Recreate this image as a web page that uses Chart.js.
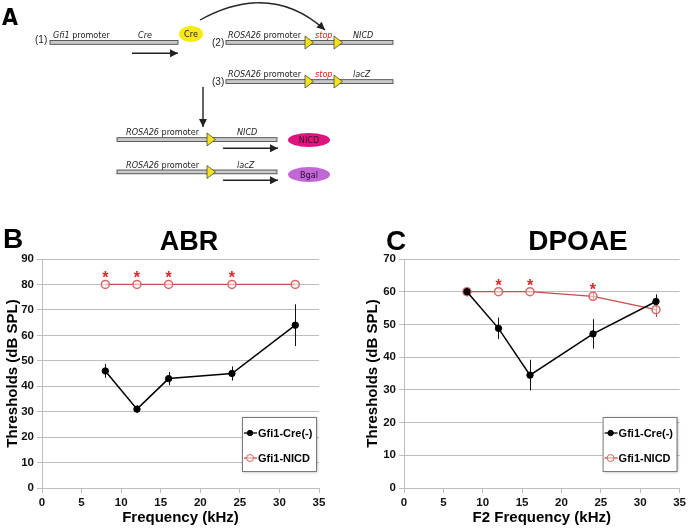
<html>
<head>
<script src="https://cdn.jsdelivr.net/npm/chart.js@4.4.1/dist/chart.umd.min.js"></script>
<style>
  body { margin: 0; background: #fff; }
  #page { position: relative; width: 689px; height: 530px; overflow: hidden; }
  .box { position: absolute; }
  #overlay { position: absolute; left: 0; top: 0; pointer-events: none; }
  .gene { font-family: "Liberation Sans Narrow", "Arial Narrow", "DejaVu Sans Condensed", sans-serif; font-size: 9px; fill: #222; }
  .num { font-family: "Liberation Sans", Arial, sans-serif; font-size: 10px; fill: #222; }
  .big { font-family: "Liberation Sans", Arial, Helvetica, sans-serif; font-weight: bold; fill: #000; }
</style>
</head>
<body>
<div id="page">
  <div class="box" style="left:0; top:228px; width:335px; height:302px;"><canvas id="abr"></canvas></div>
  <div class="box" style="left:345px; top:228px; width:344px; height:302px;"><canvas id="dpoae"></canvas></div>

  <!-- panel A diagram + panel letters / titles -->
  <svg id="overlay" width="689" height="530">
    <defs>
      <marker id="ah" viewBox="0 0 10 10" refX="10" refY="5" markerWidth="10" markerHeight="8" markerUnits="userSpaceOnUse" orient="auto">
        <path d="M0,0 L10,5 L0,10 z" fill="#222"/>
      </marker>
    </defs>

    <text class="big" x="2" y="25" style="font-size:23px; font-family:'Liberation Sans Narrow','Arial Narrow','DejaVu Sans Condensed',sans-serif;">A</text>

    <!-- (1) Gfi1-Cre -->
    <text class="num" x="35" y="42.5">(1)</text>
    <rect x="50" y="40.5" width="128" height="3.8" fill="#c9c9c9" stroke="#3a3a3a" stroke-width="0.8"/>
    <text class="gene" x="53" y="38"><tspan font-style="italic">Gfi1</tspan> promoter</text>
    <text class="gene" x="138" y="38" font-style="italic">Cre</text>
    <line x1="132" y1="53.3" x2="178" y2="53.3" stroke="#222" stroke-width="1.4" marker-end="url(#ah)"/>
    <ellipse cx="191" cy="34" rx="12" ry="8" fill="#f6ea12"/>
    <text class="gene" x="191" y="37" text-anchor="middle">Cre</text>
    <path d="M 200 20 Q 271 -19 325 30" fill="none" stroke="#222" stroke-width="1.4" marker-end="url(#ah)"/>

    <!-- (2) ROSA26-stop-NICD -->
    <text class="num" x="212" y="46">(2)</text>
    <rect x="226" y="40.5" width="167" height="3.8" fill="#c9c9c9" stroke="#3a3a3a" stroke-width="0.8"/>
    <text class="gene" x="228" y="38"><tspan font-style="italic">ROSA26</tspan> promoter</text>
    <text class="gene" x="315" y="38" font-style="italic" style="fill:#e0201c">stop</text>
    <text class="gene" x="353" y="38" font-style="italic">NICD</text>
    <polygon points="305,36 305,49 313.5,42.5" fill="#f3e21c" stroke="#333" stroke-width="0.7"/>
    <polygon points="334,36 334,49 342.5,42.5" fill="#f3e21c" stroke="#333" stroke-width="0.7"/>

    <!-- (3) ROSA26-stop-lacZ -->
    <text class="num" x="212" y="85">(3)</text>
    <rect x="226" y="79.7" width="167" height="3.8" fill="#c9c9c9" stroke="#3a3a3a" stroke-width="0.8"/>
    <text class="gene" x="228" y="77"><tspan font-style="italic">ROSA26</tspan> promoter</text>
    <text class="gene" x="315" y="77" font-style="italic" style="fill:#e0201c">stop</text>
    <text class="gene" x="353" y="77" font-style="italic">lacZ</text>
    <polygon points="305,75 305,88 313.5,81.5" fill="#f3e21c" stroke="#333" stroke-width="0.7"/>
    <polygon points="334,75 334,88 342.5,81.5" fill="#f3e21c" stroke="#333" stroke-width="0.7"/>

    <line x1="203" y1="87" x2="203" y2="127" stroke="#222" stroke-width="1.4" marker-end="url(#ah)"/>

    <!-- recombined alleles -->
    <rect x="117" y="137.7" width="160" height="3.8" fill="#c9c9c9" stroke="#3a3a3a" stroke-width="0.8"/>
    <text class="gene" x="126" y="135"><tspan font-style="italic">ROSA26</tspan> promoter</text>
    <text class="gene" x="237" y="135" font-style="italic">NICD</text>
    <polygon points="207,133 207,146 215.5,139.5" fill="#f3e21c" stroke="#333" stroke-width="0.7"/>
    <line x1="223" y1="148.3" x2="278" y2="148.3" stroke="#222" stroke-width="1.4" marker-end="url(#ah)"/>
    <ellipse cx="309" cy="140" rx="21" ry="7" fill="#e0147f"/>
    <text class="gene" x="309" y="143" text-anchor="middle" style="fill:#3a0a20">NICD</text>

    <rect x="117" y="170" width="160" height="3.8" fill="#c9c9c9" stroke="#3a3a3a" stroke-width="0.8"/>
    <text class="gene" x="126" y="168"><tspan font-style="italic">ROSA26</tspan> promoter</text>
    <text class="gene" x="237" y="168" font-style="italic">lacZ</text>
    <polygon points="207,165.5 207,178.5 215.5,172" fill="#f3e21c" stroke="#333" stroke-width="0.7"/>
    <line x1="223" y1="180.3" x2="278" y2="180.3" stroke="#222" stroke-width="1.4" marker-end="url(#ah)"/>
    <ellipse cx="309" cy="174.5" rx="21" ry="7.5" fill="#c167d6"/>
    <text class="gene" x="309" y="177.5" text-anchor="middle" style="fill:#2a0a30">Bgal</text>

    <!-- panel B / C headings -->
    <text class="big" x="3" y="248" style="font-size:28px;">B</text>
    <text class="big" x="189" y="250" text-anchor="middle" style="font-size:27px;">ABR</text>
    <text class="big" x="386" y="250" style="font-size:28px;">C</text>
    <text class="big" x="578" y="250" text-anchor="middle" style="font-size:28px;">DPOAE</text>
  </svg>
</div>

<script>
  // frequencies tested (kHz)
  var freqs = [8, 12, 16, 24, 32];

  // ABR thresholds (dB SPL)
  var abrCre = [46, 31, 43, 45, 64];
  var abrCreErr = [2.7, 1.5, 2.6, 2.8, 8.2];
  var abrNicd = [80, 80, 80, 80, 80];
  var abrNicdErr = [0, 0, 0, 0, 0];
  var abrSig = [true, true, true, true, false];

  // DPOAE thresholds (dB SPL)
  var dpCre = [60, 48.8, 34.5, 47.1, 57];
  var dpCreErr = [0, 3.3, 4.7, 4.5, 2.2];
  var dpNicd = [60, 60, 60, 58.6, 54.5];
  var dpNicdErr = [0, 0, 0, 0.9, 2.2];
  var dpSig = [false, true, true, true, false];

  var seriesNames = ['Gfi1-Cre(-)', 'Gfi1-NICD'];
  var xTitles = ['Frequency (kHz)', 'F2 Frequency (kHz)'];
  var yTitle = 'Thresholds (dB SPL)';

  Chart.defaults.font.family = '"Liberation Sans", Arial, Helvetica, sans-serif';
  Chart.defaults.color = '#000';

  var GRID = '#bdbdbd';
  var RED = '#cc4b4b';

  function pts(vals) {
    return freqs.map(function (f, i) { return { x: f, y: vals[i] }; });
  }

  // vertical error bars, drawn under the points
  var errorBars = {
    id: 'errorBars',
    beforeDatasetsDraw: function (chart) {
      var ctx = chart.ctx, xs = chart.scales.x, ys = chart.scales.y;
      chart.data.datasets.forEach(function (ds) {
        if (!ds.errors) return;
        ctx.save();
        ctx.strokeStyle = ds.errColor;
        ctx.lineWidth = 1;
        ds.data.forEach(function (p, i) {
          var e = ds.errors[i];
          if (!e) return;
          var px = Math.round(xs.getPixelForValue(p.x)) + 0.5;
          ctx.beginPath();
          ctx.moveTo(px, ys.getPixelForValue(p.y - e));
          ctx.lineTo(px, ys.getPixelForValue(p.y + e));
          ctx.stroke();
        });
        ctx.restore();
      });
    }
  };

  // significance asterisks above the NICD points
  var stars = {
    id: 'stars',
    afterDatasetsDraw: function (chart, args, opts) {
      if (!opts.flags) return;
      var ctx = chart.ctx, xs = chart.scales.x, ys = chart.scales.y;
      var ds = chart.data.datasets[opts.dataset];
      ctx.save();
      ctx.fillStyle = '#e3262a';
      ctx.font = 'bold 16px "Liberation Sans", Arial, sans-serif';
      ctx.textAlign = 'center';
      ctx.textBaseline = 'alphabetic';
      opts.flags.forEach(function (f, i) {
        if (!f) return;
        var p = ds.data[i];
        ctx.fillText('*', xs.getPixelForValue(p.x), ys.getPixelForValue(p.y) - 1);
      });
      ctx.restore();
    }
  };

  // boxed legend in the lower right of the plot
  var boxLegend = {
    id: 'boxLegend',
    afterDraw: function (chart) {
      var ctx = chart.ctx, a = chart.chartArea;
      var bx = a.right - 77, by = a.bottom - 71, bw = 74, bh = 54;
      ctx.save();
      ctx.shadowColor = 'rgba(0,0,0,0.35)';
      ctx.shadowBlur = 3;
      ctx.shadowOffsetX = 1;
      ctx.shadowOffsetY = 1;
      ctx.fillStyle = '#fff';
      ctx.fillRect(bx, by, bw, bh);
      ctx.restore();
      ctx.save();
      ctx.strokeStyle = '#7a7a7a';
      ctx.lineWidth = 1;
      ctx.strokeRect(bx + 0.5, by + 0.5, bw, bh);
      ctx.font = 'bold 11px "Liberation Sans", Arial, sans-serif';
      ctx.textBaseline = 'middle';
      chart.data.datasets.forEach(function (ds, i) {
        var ly = by + 16 + i * 25;
        ctx.strokeStyle = ds.borderColor;
        ctx.lineWidth = 1.3;
        ctx.beginPath();
        ctx.moveTo(bx + 2, ly);
        ctx.lineTo(bx + 15, ly);
        ctx.stroke();
        ctx.beginPath();
        ctx.arc(bx + 8, ly, ds.pointRadius - 0.5, 0, Math.PI * 2);
        ctx.fillStyle = ds.pointBackgroundColor;
        ctx.fill();
        ctx.strokeStyle = ds.pointBorderColor;
        ctx.lineWidth = 1;
        ctx.stroke();
        ctx.fillStyle = '#000';
        ctx.fillText(ds.label, bx + 16, ly + 0.5);
      });
      ctx.restore();
    }
  };

  function makeChart(id, cre, creErr, nicd, nicdErr, sig, yMax, xTitle, pad, yWidth) {
    return new Chart(document.getElementById(id), {
      type: 'line',
      data: {
        datasets: [{
          label: seriesNames[0],
          data: pts(cre),
          errors: creErr,
          errColor: '#111',
          borderColor: '#000',
          borderWidth: 1.5,
          pointRadius: 3.2,
          pointBackgroundColor: '#000',
          pointBorderColor: '#000',
          pointBorderWidth: 1,
          tension: 0
        }, {
          label: seriesNames[1],
          data: pts(nicd),
          errors: nicdErr,
          errColor: '#9a3a3a',
          borderColor: RED,
          borderWidth: 1.3,
          pointRadius: 4,
          pointBackgroundColor: 'rgba(255,235,235,0.6)',
          pointBorderColor: '#d46a6a',
          pointBorderWidth: 1.5,
          tension: 0
        }]
      },
      options: {
        responsive: true,
        maintainAspectRatio: false,
        animation: false,
        layout: { padding: pad },
        plugins: {
          legend: { display: false },
          tooltip: { enabled: false },
          stars: { flags: sig, dataset: 1 }
        },
        scales: {
          x: {
            type: 'linear',
            min: 0, max: 35,
            afterFit: function (s) { s.height = 42; },
            ticks: { stepSize: 5, padding: 3, font: { size: 11.5, weight: 'bold' }, color: '#111' },
            grid: { drawOnChartArea: false, drawTicks: true, tickLength: 5, color: GRID },
            border: { display: true, color: GRID },
            title: { display: true, text: xTitle, font: { size: 15, weight: 'bold' }, color: '#000', padding: { top: 0, bottom: 3 } }
          },
          y: {
            min: 0, max: yMax,
            afterFit: function (s) { s.width = yWidth; },
            ticks: { stepSize: 10, padding: 3, font: { size: 11.5, weight: 'bold' }, color: '#111' },
            grid: { color: GRID, tickLength: 5, drawTicks: true },
            border: { display: true, color: GRID },
            title: { display: true, text: yTitle, font: { size: 15, weight: 'bold' }, color: '#000', padding: { top: 0, bottom: 0 } }
          }
        }
      },
      plugins: [errorBars, stars, boxLegend]
    });
  }

  makeChart('abr', abrCre, abrCreErr, abrNicd, abrNicdErr, abrSig, 90, xTitles[0],
    { left: 4, right: 16, top: 31, bottom: 0 }, 38);
  makeChart('dpoae', dpCre, dpCreErr, dpNicd, dpNicdErr, dpSig, 70, xTitles[1],
    { left: 19, right: 9, top: 31, bottom: 0 }, 40);
</script>
</body>
</html>
